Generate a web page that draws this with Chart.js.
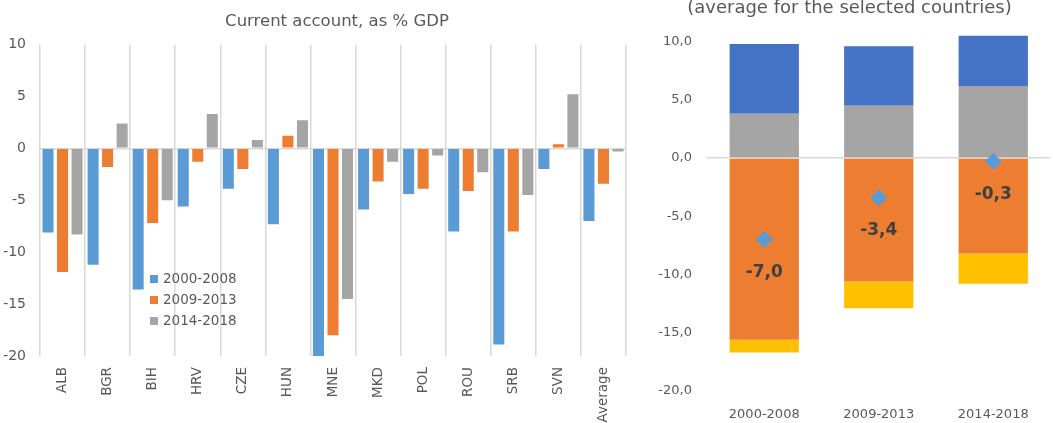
<!DOCTYPE html>
<html lang="en">
<head>
<meta charset="UTF-8">
<title>Current account, as % GDP</title>
<script src="https://cdn.jsdelivr.net/npm/chart.js"></script>
<style>
  * { margin: 0; padding: 0; box-sizing: border-box; }
  html, body { width: 1053px; height: 423px; overflow: hidden; background: #fff; }
  #left { position: absolute; left: 0; top: 0; }
  #right { position: absolute; left: 640px; top: -2px; }
</style>
</head>
<body>
<canvas id="left" width="674" height="423"></canvas>
<canvas id="right" width="419" height="425"></canvas>
<script>
// left chart: current account by country and period
const countries = ['ALB', 'BGR', 'BIH', 'HRV', 'CZE', 'HUN', 'MNE', 'MKD', 'POL', 'ROU', 'SRB', 'SVN', 'Average'];
const periods = ['2000-2008', '2009-2013', '2014-2018'];
const ca0008 = [-8.1, -11.2, -13.6, -5.6, -3.9, -7.3, -20.2, -5.9, -4.4, -8.0, -18.9, -2.0, -7.0];
const ca0913 = [-11.9, -1.8, -7.2, -1.3, -2.0, 1.2, -18.0, -3.2, -3.9, -4.1, -8.0, 0.4, -3.4];
const ca1418 = [-8.3, 2.4, -5.0, 3.3, 0.8, 2.7, -14.5, -1.3, -0.7, -2.3, -4.5, 5.2, -0.3];
const leftTicks = [10, 5, 0, -5, -10, -15, -20];

// right chart: components of the balance, average for the selected countries
// (component names are not visible in the picture)
const posInner = [3.8, 4.5, 6.2];
const posOuter = [6.0, 5.1, 4.3];
const negInner = [-15.6, -10.6, -8.2];
const negOuter = [-1.1, -2.3, -2.6];
const netCA = [-7.0, -3.4, -0.3];
const rightTicks = [10, 5, 0, -5, -10, -15, -20];

const FONT = "'DejaVu Sans', sans-serif";
const TXT = '#595959';
const GRID = '#d9d9d9';
Chart.defaults.font.family = FONT;
Chart.defaults.color = TXT;

const comma = v => v.toFixed(1).replace('.', ',');

// legend drawn inside the plot, like the excel one
const innerLegend = {
  id: 'innerLegend',
  afterDraw(chart) {
    const ctx = chart.ctx;
    const a = chart.chartArea;
    ctx.save();
    ctx.font = '13.5px ' + FONT;
    ctx.textBaseline = 'middle';
    chart.data.datasets.forEach((ds, i) => {
      const y = a.top + 234.5 + i * 21;
      ctx.fillStyle = ds.backgroundColor;
      ctx.fillRect(a.left + 110, y - 4, 8, 8);
      ctx.fillStyle = TXT;
      ctx.fillText(ds.label, a.left + 123, y);
    });
    ctx.restore();
  }
};

// value labels under the diamonds
const netLabels = {
  id: 'netLabels',
  afterDatasetsDraw(chart) {
    const meta = chart.getDatasetMeta(0);
    const ctx = chart.ctx;
    ctx.save();
    ctx.font = 'bold 17px ' + FONT;
    ctx.fillStyle = '#404040';
    ctx.textAlign = 'center';
    ctx.textBaseline = 'middle';
    meta.data.forEach((pt, i) => {
      ctx.fillText(comma(netCA[i]), pt.x, pt.y + 33);
    });
    ctx.restore();
  }
};

const zeroLine = c => (c.tick && c.tick.value === 0 ? GRID : 'rgba(0,0,0,0)');

new Chart(document.getElementById('left'), {
  type: 'bar',
  data: {
    labels: countries,
    datasets: [
      { label: periods[0], data: ca0008, backgroundColor: '#5B9BD5' },
      { label: periods[1], data: ca0913, backgroundColor: '#ED7D31' },
      { label: periods[2], data: ca1418, backgroundColor: '#A5A5A5' }
    ]
  },
  options: {
    responsive: false,
    animation: false,
    datasets: { bar: { categoryPercentage: 0.967, barPercentage: 0.76 } },
    plugins: {
      legend: { display: false },
      tooltip: { enabled: false },
      title: {
        display: true,
        text: 'Current account, as % GDP',
        color: TXT,
        font: { size: 16.5, weight: 'normal' },
        padding: { top: 12, bottom: 12.7 }
      }
    },
    scales: {
      x: {
        grid: { color: GRID, lineWidth: 1.5, drawTicks: false, offset: true },
        border: { display: false },
        ticks: { font: { size: 13.5 }, minRotation: 90, maxRotation: 90, padding: 11, autoSkip: false },
        afterFit: s => { s.height = 67; }
      },
      y: {
        min: -20,
        max: 10,
        afterBuildTicks: s => { s.ticks = leftTicks.map(v => ({ value: v })); },
        grid: { color: zeroLine, lineWidth: 1.5, drawTicks: false },
        border: { display: false },
        ticks: { font: { size: 14 }, padding: 14 },
        afterFit: s => { s.width = 40; }
      },
      // empty axis, only keeps the plot off the right edge so the title centres like the original
      pad: {
        position: 'right',
        grid: { display: false },
        border: { display: false },
        ticks: { display: false },
        afterFit: s => { s.width = 48; }
      }
    }
  },
  plugins: [innerLegend]
});

new Chart(document.getElementById('right'), {
  data: {
    labels: periods,
    datasets: [
      { type: 'line', label: 'Current account', data: netCA, showLine: false, pointStyle: 'rectRot',
        pointRadius: 8.5, pointBorderWidth: 0, backgroundColor: '#5B9BD5', borderColor: '#5B9BD5',
        order: 0, stack: 'net' },
      { type: 'bar', label: 'posInner', data: posInner, backgroundColor: '#A5A5A5', order: 1 },
      { type: 'bar', label: 'posOuter', data: posOuter, backgroundColor: '#4472C4', order: 1 },
      { type: 'bar', label: 'negInner', data: negInner, backgroundColor: '#ED7D31', order: 1 },
      { type: 'bar', label: 'negOuter', data: negOuter, backgroundColor: '#FFC000', order: 1 }
    ]
  },
  options: {
    responsive: false,
    animation: false,
    datasets: { bar: { categoryPercentage: 0.605, barPercentage: 1 } },
    plugins: {
      legend: { display: false },
      tooltip: { enabled: false },
      title: {
        display: true,
        text: '(average for the selected countries)',
        color: TXT,
        font: { size: 18, weight: 'normal' },
        padding: { top: 0, bottom: 10.4 }
      }
    },
    scales: {
      x: {
        stacked: true,
        grid: { display: false, drawTicks: false },
        border: { display: false },
        ticks: { font: { size: 13 }, padding: 16 },
        afterFit: s => { s.height = 32; }
      },
      y: {
        stacked: true,
        min: -20,
        max: 11,
        bounds: 'data',
        afterBuildTicks: s => { s.ticks = rightTicks.map(v => ({ value: v })); },
        grid: { color: zeroLine, lineWidth: 1.5, drawTicks: false },
        border: { display: false },
        ticks: { font: { size: 13 }, padding: 15, callback: v => comma(v) },
        afterFit: s => { s.width = 67; }
      }
    }
  },
  plugins: [netLabels]
});
</script>
</body>
</html>
